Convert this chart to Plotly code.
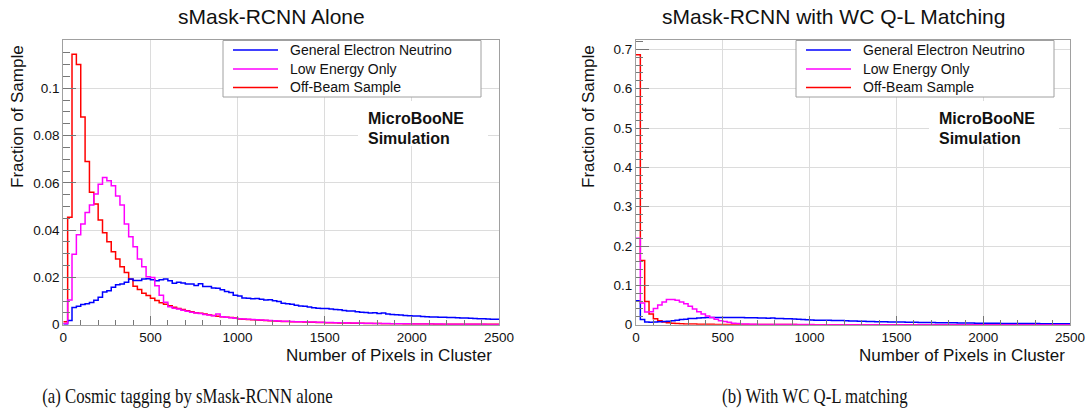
import plotly.graph_objects as go

# ---------------- data ----------------
bin_edges = [25 * i for i in range(101)]

left_electron = [
    0.0003, 0.0018, 0.0073, 0.0078, 0.0085, 0.0089, 0.0094, 0.0103, 0.0116, 0.0138,
    0.0144, 0.0158, 0.0169, 0.0172, 0.0180, 0.0193, 0.0187, 0.0187, 0.0193, 0.0194,
    0.0190, 0.0186, 0.0190, 0.0193, 0.0186, 0.0175, 0.0179, 0.0176, 0.0172, 0.0172,
    0.0166, 0.0173, 0.0162, 0.0162, 0.0155, 0.0154, 0.0148, 0.0140, 0.0136, 0.0125,
    0.0121, 0.0113, 0.0112, 0.0110, 0.0111, 0.0108, 0.0104, 0.0105, 0.0101, 0.0098,
    0.0091, 0.0089, 0.0086, 0.0082, 0.0079, 0.0078, 0.0075, 0.0072, 0.0070, 0.0069,
    0.0068, 0.0066, 0.0064, 0.0063, 0.0060, 0.0058, 0.0058, 0.0055, 0.0053, 0.0052,
    0.0050, 0.0051, 0.0047, 0.0049, 0.0045, 0.0043, 0.0042, 0.0041, 0.0039, 0.0038,
    0.0037, 0.0037, 0.0035, 0.0034, 0.0033, 0.0033, 0.0032, 0.0031, 0.0030, 0.0030,
    0.0029, 0.0028, 0.0028, 0.0027, 0.0026, 0.0025, 0.0025, 0.0024, 0.0023, 0.0023,
]
left_low_energy = [
    0.0005, 0.0104, 0.0298, 0.0380, 0.0426, 0.0475, 0.0506, 0.0553, 0.0594, 0.0623,
    0.0609, 0.0588, 0.0544, 0.0506, 0.0426, 0.0372, 0.0330, 0.0278, 0.0245, 0.0203,
    0.0200, 0.0165, 0.0125, 0.0095, 0.0076, 0.0070, 0.0066, 0.0061, 0.0057, 0.0053,
    0.0050, 0.0047, 0.0043, 0.0041, 0.0038, 0.0045, 0.0034, 0.0031, 0.0029, 0.0027,
    0.0025, 0.0024, 0.0023, 0.0022, 0.0021, 0.0020, 0.0019, 0.0018, 0.0017, 0.0016,
    0.0015, 0.0015, 0.0014, 0.0013, 0.0012, 0.0012, 0.0011, 0.0011, 0.0010, 0.0010,
    0.0009, 0.0009, 0.0008, 0.0008, 0.0008, 0.0007, 0.0007, 0.0007, 0.0006, 0.0006,
    0.0006, 0.0005, 0.0005, 0.0005, 0.0005, 0.0004, 0.0004, 0.0004, 0.0004, 0.0004,
    0.0003, 0.0003, 0.0003, 0.0003, 0.0003, 0.0003, 0.0003, 0.0002, 0.0002, 0.0002,
    0.0002, 0.0002, 0.0002, 0.0002, 0.0002, 0.0002, 0.0002, 0.0001, 0.0001, 0.0001,
]
left_off_beam = [
    0.0012, 0.0454, 0.1144, 0.1100, 0.0878, 0.0690, 0.0560, 0.0510, 0.0443, 0.0389,
    0.0351, 0.0309, 0.0278, 0.0245, 0.0221, 0.0192, 0.0163, 0.0149, 0.0133, 0.0123,
    0.0112, 0.0102, 0.0093, 0.0086, 0.0080, 0.0074, 0.0068, 0.0064, 0.0059, 0.0055,
    0.0051, 0.0048, 0.0045, 0.0042, 0.0039, 0.0036, 0.0034, 0.0032, 0.0030, 0.0028,
    0.0024, 0.0023, 0.0022, 0.0021, 0.0020, 0.0019, 0.0018, 0.0017, 0.0016, 0.0015,
    0.0014, 0.0014, 0.0013, 0.0012, 0.0012, 0.0011, 0.0010, 0.0010, 0.0009, 0.0009,
    0.0008, 0.0008, 0.0008, 0.0007, 0.0007, 0.0007, 0.0006, 0.0006, 0.0006, 0.0005,
    0.0005, 0.0005, 0.0005, 0.0004, 0.0004, 0.0004, 0.0004, 0.0004, 0.0003, 0.0003,
    0.0003, 0.0003, 0.0003, 0.0003, 0.0003, 0.0002, 0.0002, 0.0002, 0.0002, 0.0002,
    0.0002, 0.0002, 0.0002, 0.0002, 0.0002, 0.0002, 0.0002, 0.0002, 0.0002, 0.0002,
]

right_electron = [
    0.0610, 0.0130, 0.0070, 0.0065, 0.0070, 0.0075, 0.0080, 0.0090, 0.0100, 0.0115,
    0.0130, 0.0140, 0.0155, 0.0160, 0.0170, 0.0175, 0.0180, 0.0180, 0.0185, 0.0185,
    0.0185, 0.0183, 0.0185, 0.0186, 0.0182, 0.0175, 0.0176, 0.0174, 0.0170, 0.0170,
    0.0165, 0.0168, 0.0160, 0.0160, 0.0154, 0.0152, 0.0147, 0.0140, 0.0135, 0.0126,
    0.0120, 0.0114, 0.0112, 0.0110, 0.0110, 0.0107, 0.0104, 0.0104, 0.0100, 0.0097,
    0.0091, 0.0089, 0.0086, 0.0082, 0.0079, 0.0078, 0.0075, 0.0072, 0.0070, 0.0069,
    0.0068, 0.0066, 0.0064, 0.0062, 0.0060, 0.0058, 0.0057, 0.0055, 0.0053, 0.0052,
    0.0050, 0.0050, 0.0047, 0.0048, 0.0045, 0.0043, 0.0042, 0.0041, 0.0039, 0.0038,
    0.0037, 0.0036, 0.0035, 0.0034, 0.0033, 0.0033, 0.0032, 0.0031, 0.0030, 0.0030,
    0.0029, 0.0028, 0.0028, 0.0027, 0.0026, 0.0025, 0.0025, 0.0024, 0.0023, 0.0023,
]
right_low_energy = [
    0.2200, 0.0550, 0.0320, 0.0330, 0.0410, 0.0500, 0.0580, 0.0640, 0.0640, 0.0620,
    0.0580, 0.0530, 0.0470, 0.0400, 0.0330, 0.0270, 0.0220, 0.0180, 0.0140, 0.0100,
    0.0080, 0.0060, 0.0040, 0.0030, 0.0020, 0.0015, 0.0012, 0.0010, 0.0008, 0.0006,
    0.0005, 0.0004, 0.0004, 0.0003, 0.0003, 0.0003, 0.0002, 0.0002, 0.0002, 0.0002,
    0.0002, 0.0001, 0.0001, 0.0001, 0.0001, 0.0001, 0.0001, 0.0001, 0.0001, 0.0001,
    0.0001, 0.0001, 0.0001, 0.0001, 0.0001, 0.0001, 0.0001, 0.0001, 0.0001, 0.0001,
    0.0001, 0.0001, 0.0001, 0.0001, 0.0001, 0.0001, 0.0001, 0.0001, 0.0001, 0.0001,
    0.0001, 0.0001, 0.0001, 0.0001, 0.0001, 0.0001, 0.0001, 0.0001, 0.0001, 0.0001,
    0.0001, 0.0001, 0.0001, 0.0001, 0.0001, 0.0001, 0.0001, 0.0001, 0.0001, 0.0001,
    0.0001, 0.0001, 0.0001, 0.0001, 0.0001, 0.0001, 0.0001, 0.0001, 0.0001, 0.0001,
]
right_off_beam = [
    0.6860, 0.1630, 0.0590, 0.0270, 0.0150, 0.0100, 0.0070, 0.0050, 0.0040, 0.0030,
    0.0025, 0.0020, 0.0018, 0.0015, 0.0013, 0.0011, 0.0010, 0.0009, 0.0008, 0.0007,
    0.0006, 0.0006, 0.0005, 0.0005, 0.0004, 0.0004, 0.0004, 0.0003, 0.0003, 0.0003,
    0.0003, 0.0002, 0.0002, 0.0002, 0.0002, 0.0002, 0.0002, 0.0001, 0.0001, 0.0001,
    0.0001, 0.0001, 0.0001, 0.0001, 0.0001, 0.0001, 0.0001, 0.0001, 0.0001, 0.0001,
    0.0001, 0.0001, 0.0001, 0.0001, 0.0001, 0.0001, 0.0001, 0.0001, 0.0001, 0.0001,
    0.0001, 0.0001, 0.0001, 0.0001, 0.0001, 0.0001, 0.0001, 0.0001, 0.0001, 0.0001,
    0.0000, 0.0000, 0.0000, 0.0000, 0.0000, 0.0000, 0.0000, 0.0000, 0.0000, 0.0000,
    0.0000, 0.0000, 0.0000, 0.0000, 0.0000, 0.0000, 0.0000, 0.0000, 0.0000, 0.0000,
    0.0000, 0.0000, 0.0000, 0.0000, 0.0000, 0.0000, 0.0000, 0.0000, 0.0000, 0.0000,
]

series_names = ["General Electron Neutrino", "Low Energy Only", "Off-Beam Sample"]
series_colors = ["#0000ff", "#ff00ff", "#ff0000"]
panel_titles = ["sMask-RCNN Alone", "sMask-RCNN with WC Q-L Matching"]
captions = ["(a) Cosmic tagging by sMask-RCNN alone", "(b) With WC Q-L matching"]
x_title = "Number of Pixels in Cluster"
y_title = "Fraction of Sample"
x_ticks = [0, 500, 1000, 1500, 2000, 2500]
left_y_ticks = [0, 0.02, 0.04, 0.06, 0.08, 0.1]
left_y_labels = ["0", "0.02", "0.04", "0.06", "0.08", "0.1"]
right_y_ticks = [0, 0.1, 0.2, 0.3, 0.4, 0.5, 0.6, 0.7]
right_y_labels = ["0", "0.1", "0.2", "0.3", "0.4", "0.5", "0.6", "0.7"]

# ---------------- layout helpers ----------------
W, H = 1086, 419


def px(x):
    return x / W


def py(y):
    return 1 - y / H


SANS = "Liberation Sans, Arial, Helvetica, sans-serif"
SERIF = "Liberation Serif, Times New Roman, serif"
FRAME = "#a0a0a0"
GRID = "#dcdcdc"

fig = go.Figure()

panels = [
    dict(data=[left_electron, left_low_energy, left_off_beam], x0=63.3, x1=499.0,
         ymax=0.1204, yticks=left_y_ticks, ylabels=left_y_labels, ymin_dt=0.005, xa="x", ya="y"),
    dict(data=[right_electron, right_low_energy, right_off_beam], x0=636.0, x1=1070.0,
         ymax=0.7237, yticks=right_y_ticks, ylabels=right_y_labels, ymin_dt=0.02, xa="x2", ya="y2"),
]

draw_order = [2, 0, 1]
for p in panels:
    for k in draw_order:
        vals = p["data"][k]
        fig.add_trace(go.Scatter(
            x=bin_edges, y=list(vals) + [vals[-1]],
            mode="lines", line=dict(color=series_colors[k], width=1.5, shape="hv"),
            xaxis=p["xa"], yaxis=p["ya"], showlegend=False, hoverinfo="skip",
        ))

TOP, BOT = 40.0, 324.7
ax_common = dict(showline=True, linecolor=FRAME, linewidth=1, mirror=True, automargin=False,
                 showgrid=True, gridcolor=GRID, gridwidth=1, zeroline=False,
                 ticks="inside", tickcolor="#777", tickfont=dict(family=SANS, size=13.5, color="#111"))

layout = dict(width=W, height=H, margin=dict(l=0, r=0, t=0, b=0, autoexpand=False),
              paper_bgcolor="white", plot_bgcolor="white", showlegend=False)

for i, p in enumerate(panels):
    xk = "xaxis" if i == 0 else "xaxis2"
    yk = "yaxis" if i == 0 else "yaxis2"
    layout[xk] = dict(ax_common, domain=[px(p["x0"]), px(p["x1"])], range=[0, 2500],
                      tickvals=x_ticks, ticklen=9,
                      minor=dict(dtick=100, ticks="inside", ticklen=5, tickcolor="#777", showgrid=False),
                      anchor="y" if i == 0 else "y2")
    layout[yk] = dict(ax_common, domain=[py(BOT), py(TOP)], range=[0, p["ymax"]],
                      tickvals=p["yticks"], ticktext=p["ylabels"], ticklen=13,
                      minor=dict(dtick=p["ymin_dt"], tick0=0, ticks="inside", ticklen=7,
                                 tickcolor="#777", showgrid=False),
                      anchor="x" if i == 0 else "x2")

fig.update_layout(**layout)

shapes = []
annotations = []

# titles
title_left = [176, 660]
for i in range(2):
    annotations.append(dict(xref="paper", yref="paper", x=px(title_left[i]), y=py(17),
                            xanchor="left", yanchor="middle", showarrow=False,
                            text=panel_titles[i], font=dict(family=SANS, size=21, color="#111")))

# axis titles
xt_right = [494, 1067]
yt_x = [17.5, 588.5]
for i in range(2):
    annotations.append(dict(xref="paper", yref="paper", x=px(xt_right[i]), y=py(355),
                            xanchor="right", yanchor="middle", showarrow=False,
                            text=x_title, font=dict(family=SANS, size=17, color="#111")))
    annotations.append(dict(xref="paper", yref="paper", x=px(yt_x[i]), y=py(43),
                            xanchor="center", yanchor="top", showarrow=False, textangle=-90,
                            text=y_title, font=dict(family=SANS, size=17, color="#111")))

# legends
leg_x0 = [223, 796]
leg_w = 258
row_y = [50, 69, 87.5]
for i in range(2):
    x0 = leg_x0[i]
    shapes.append(dict(type="rect", xref="paper", yref="paper", x0=px(x0), x1=px(x0 + leg_w),
                       y0=py(97), y1=py(40.5), line=dict(color=FRAME, width=1), fillcolor="white",
                       layer="above"))
    for k in range(3):
        shapes.append(dict(type="line", xref="paper", yref="paper", x0=px(x0 + 10), x1=px(x0 + 55),
                           y0=py(row_y[k]), y1=py(row_y[k]),
                           line=dict(color=series_colors[k], width=1.5), layer="above"))
        annotations.append(dict(xref="paper", yref="paper", x=px(x0 + 65), y=py(row_y[k]),
                                xanchor="left", yanchor="middle", showarrow=False,
                                text=series_names[k], font=dict(family=SANS, size=14, color="#111")))

# MicroBooNE Simulation labels
mb_x = [366, 937]
for i in range(2):
    shapes.append(dict(type="rect", xref="paper", yref="paper", x0=px(mb_x[i] - 8), x1=px(mb_x[i] + 122),
                       y0=py(146), y1=py(101), line=dict(width=0), fillcolor="white", layer="above"))
    annotations.append(dict(xref="paper", yref="paper", x=px(mb_x[i]), y=py(118),
                            xanchor="left", yanchor="middle", showarrow=False,
                            text="<b>MicroBooNE</b>", font=dict(family=SANS, size=16, color="#111")))
    annotations.append(dict(xref="paper", yref="paper", x=px(mb_x[i]), y=py(138.5),
                            xanchor="left", yanchor="middle", showarrow=False,
                            text="<b>Simulation</b>", font=dict(family=SANS, size=16, color="#111")))

# captions
cap_x = [40, 720]
for i in range(2):
    annotations.append(dict(xref="paper", yref="paper", x=px(cap_x[i]), y=py(396),
                            xanchor="left", yanchor="middle", showarrow=False,
                            text=captions[i], font=dict(family=SERIF, size=21, color="#111")))

fig.update_layout(shapes=shapes, annotations=annotations)

post_js = """
document.body.style.margin = '0px';
document.body.style.padding = '0px';
document.querySelectorAll('text.annotation-text').forEach(function(t) {
  var s = t.textContent || '';
  if (s.indexOf('(a)') === 0 || s.indexOf('(b)') === 0) {
    t.style.transformBox = 'fill-box';
    t.style.transformOrigin = 'left center';
    t.style.transform = 'scaleX(0.80)';
  }
});
"""
fig.write_html("out.html", post_script=post_js, config={"displayModeBar": False})
